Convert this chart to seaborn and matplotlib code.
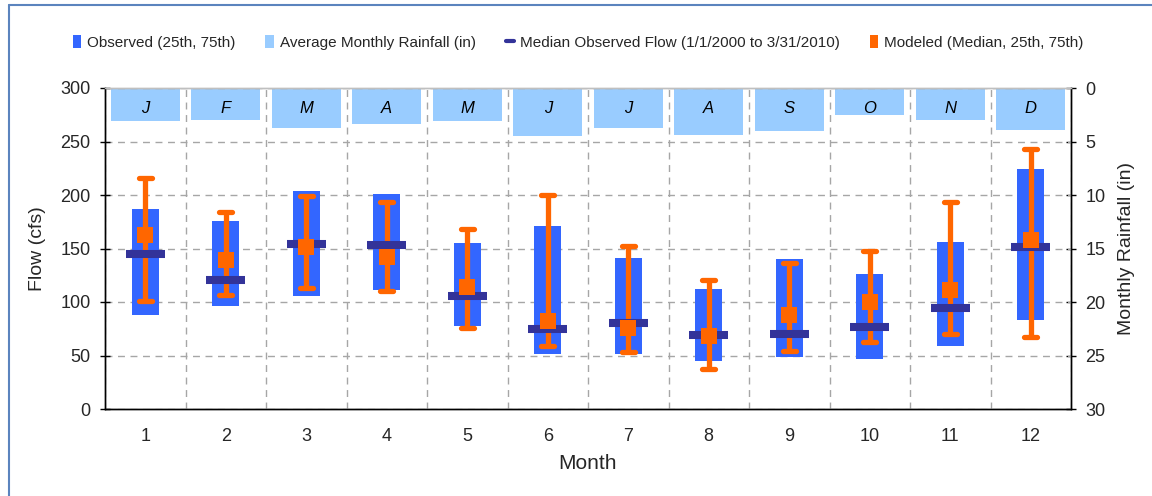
import numpy as np
import seaborn as sns
import matplotlib
matplotlib.use("Agg")
import matplotlib.pyplot as plt
from matplotlib.patches import Patch
from matplotlib.lines import Line2D

# Monthly flow statistics (cfs) and average monthly rainfall (in)
months = list(range(1, 13))
month_letters = ["J", "F", "M", "A", "M", "J", "J", "A", "S", "O", "N", "D"]
rainfall_in = [3.1, 3.0, 3.7, 3.4, 3.1, 4.5, 3.7, 4.4, 4.0, 2.5, 3.0, 3.9]
obs_p25 = [88, 96, 106, 111, 78, 51, 51, 45, 49, 47, 59, 83]
obs_p75 = [187, 176, 204, 201, 155, 171, 141, 112, 140, 126, 156, 224]
obs_median = [145, 121, 154, 153, 106, 75, 80, 69, 70, 77, 94, 151]
mod_median = [163, 139, 151, 142, 114, 82, 76, 68, 88, 100, 111, 158]
mod_p25 = [101, 107, 113, 110, 76, 59, 53, 37, 54, 63, 70, 67]
mod_p75 = [216, 184, 199, 193, 168, 200, 152, 121, 136, 148, 193, 243]

C_OBS = "#3366FF"
C_RAIN = "#99CCFF"
C_MED = "#333399"
C_MOD = "#FF6600"
C_GRID = "#A6A6A6"

sns.set_style("white")
plt.rcParams["font.family"] = ["Liberation Sans", "DejaVu Sans"]

fig = plt.figure(figsize=(11.52, 4.96), dpi=100, facecolor="white")
ax = fig.add_axes([105 / 1152, 1 - 409 / 496, 966 / 1152, 321 / 496])
ax2 = ax.twinx()

x = np.arange(len(months))

# rainfall bars hang from the top of the inverted right axis
sns.barplot(x=months, y=rainfall_in, ax=ax2, color=C_RAIN, width=0.86,
            saturation=1, edgecolor="none", linewidth=0)
ax2.set_ylim(30, 0)
ax2.set_xlabel("")
for i, letter in enumerate(month_letters):
    ax2.text(i, 1.93, letter, ha="center", va="center", style="italic",
             fontsize=12, color="black")

# observed interquartile range
obs_lo = np.array(obs_p25)
obs_hi = np.array(obs_p75)
ax.bar(x, obs_hi - obs_lo, bottom=obs_lo, width=0.33, color=C_OBS,
       linewidth=0, zorder=2)

# modeled 25th-75th whiskers with rounded caps
ax.vlines(x, mod_p25, mod_p75, colors=C_MOD, linewidth=3.8, zorder=3)
for ends in (mod_p25, mod_p75):
    caps = ax.hlines(ends, x - 0.078, x + 0.078, colors=C_MOD,
                     linewidth=3.8, zorder=3)
    caps.set_capstyle("round")

# observed median
ax.hlines(obs_median, x - 0.245, x + 0.245, colors=C_MED, linewidth=5.8,
          zorder=4)

# modeled median
sns.scatterplot(x=x, y=mod_median, ax=ax, marker="s", s=132, color=C_MOD,
                edgecolor="none", linewidth=0, zorder=5, legend=False)

ax.set_zorder(ax2.get_zorder() + 1)
ax.patch.set_visible(False)
ax2.patch.set_visible(False)

ax.set_xlim(-0.5, 11.5)
ax.set_ylim(0, 300)
ax.set_yticks(np.arange(0, 301, 50))
ax.set_xticks(x)
ax.set_xticklabels([str(m) for m in months])
ax.set_xticks(np.arange(-0.5, 12, 1), minor=True)
ax.tick_params(axis="x", which="major", length=0, pad=14, labelsize=13)
ax.tick_params(axis="x", which="minor", length=5, width=1, direction="out",
               color="black")
ax.tick_params(axis="y", which="major", direction="inout", length=7, width=1,
               pad=7, labelsize=13, color="black", left=True, right=False)
ax2.set_yticks(np.arange(0, 31, 5))
ax2.tick_params(axis="y", which="major", direction="inout", length=7,
                width=1, pad=7, labelsize=13, color="black", right=True)
ax2.tick_params(axis="x", which="both", length=0, labelbottom=False)

ax.grid(False)
ax2.grid(False)
ax.xaxis.grid(True, which="minor", linestyle=(0, (5, 4)), color=C_GRID,
              linewidth=1)
ax.yaxis.grid(True, which="major", linestyle=(0, (5, 4)), color=C_GRID,
              linewidth=1)
ax.set_axisbelow(True)

for a in (ax, ax2):
    for side in ("left", "bottom", "right"):
        a.spines[side].set_color("black")
        a.spines[side].set_linewidth(1)
    a.spines["top"].set_color("#BFBFBF")
    a.spines["top"].set_linewidth(1)

ax.set_xlabel("Month", fontsize=15, labelpad=6)
ax.set_ylabel("Flow (cfs)", fontsize=14, labelpad=10)
ax2.set_ylabel("Monthly Rainfall (in)", fontsize=14, labelpad=9)

handles = [
    Patch(facecolor=C_OBS, edgecolor="none"),
    Patch(facecolor=C_RAIN, edgecolor="none"),
    Line2D([], [], color=C_MED, linewidth=3),
    Patch(facecolor=C_MOD, edgecolor="none"),
]
labels = [
    "Observed (25th, 75th)",
    "Average Monthly Rainfall (in)",
    "Median Observed Flow (1/1/2000 to 3/31/2010)",
    "Modeled (Median, 25th, 75th)",
]
fig.legend(handles, labels, loc="center", bbox_to_anchor=(0.502, 0.915),
           ncol=4, frameon=False, fontsize=11, handlelength=0.55,
           handleheight=1.0, handletextpad=0.4, columnspacing=1.95)

# chart frame
frame_c = "#5B84BE"
fig.add_artist(Line2D([9 / 1152, 1.0], [1 - 5 / 496, 1 - 5 / 496],
                      transform=fig.transFigure, color=frame_c, linewidth=1.5))
fig.add_artist(Line2D([9 / 1152, 9 / 1152], [0.0, 1 - 5 / 496],
                      transform=fig.transFigure, color=frame_c, linewidth=1.5))

fig.savefig("out.png", dpi=100, facecolor="white")
